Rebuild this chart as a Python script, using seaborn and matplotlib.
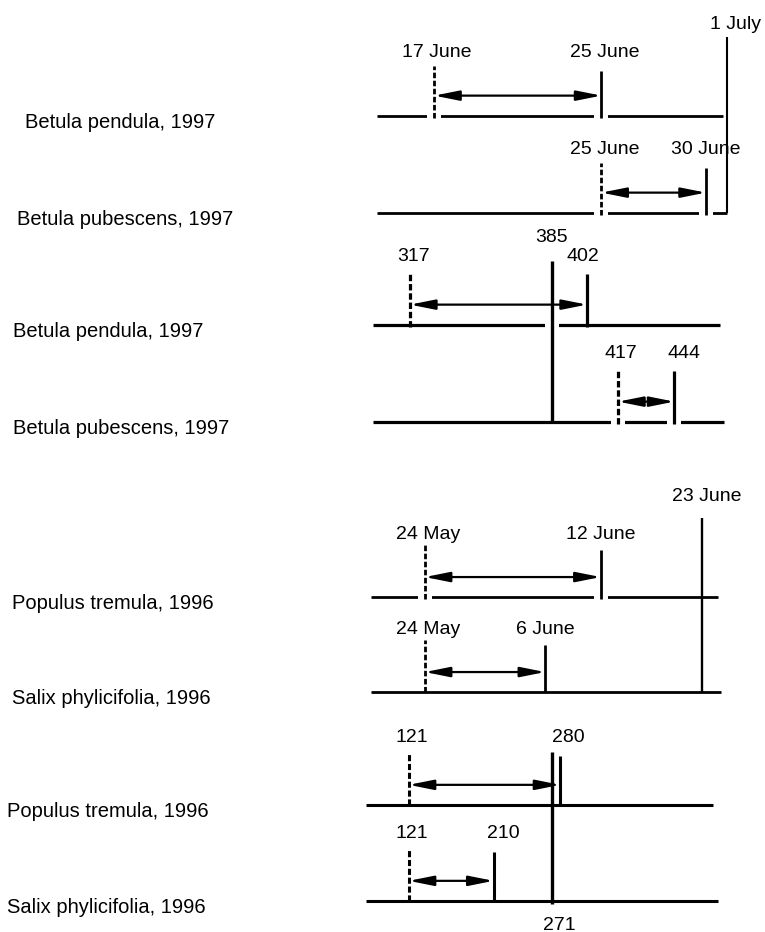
import matplotlib
matplotlib.use("Agg")
import matplotlib.pyplot as plt
import pandas as pd
import seaborn as sns

# birches, 1997: start / end of flowering as dates
birch_species = ["Betula pendula, 1997", "Betula pubescens, 1997"]
birch_start = ["1997-06-17", "1997-06-25"]
birch_end = ["1997-06-25", "1997-06-30"]
birch_ref = "1997-07-01"

# birches, 1997: same events as thermal sums
birch_sum_start = [317, 417]
birch_sum_end = [402, 444]
birch_sum_ref = 385

# aspen and willow, 1996: dates
salic_species = ["Populus tremula, 1996", "Salix phylicifolia, 1996"]
salic_start = ["1996-05-24", "1996-05-24"]
salic_end = ["1996-06-12", "1996-06-06"]
salic_ref = "1996-06-23"

# aspen and willow, 1996: thermal sums
salic_sum_start = [121, 121]
salic_sum_end = [280, 210]
salic_sum_ref = 271

W, H = 765, 932
FONT = ["Liberation Sans", "DejaVu Sans"]

sns.set_theme(style="white")
plt.rcParams["font.family"] = FONT
plt.rcParams["text.color"] = "black"


def doy(s):
    return pd.Timestamp(s).dayofyear


def day_label(s):
    t = pd.Timestamp(s)
    return f"{t.day} {t.strftime('%B')}"


def as_dates(values):
    return [doy(v) for v in values], [day_label(v) for v in values]


def as_sums(values):
    return list(values), [str(v) for v in values]


def panel_axes(fig, top_px, bottom_px, xlim):
    # rows sit at y=1 (upper) and y=0 (lower)
    sp = bottom_px - top_px
    lo, hi = -0.5, 2.3
    ax_bot = bottom_px - lo * sp
    ax_top = bottom_px - hi * sp
    ax = fig.add_axes([0, 1 - ax_bot / H, 1, (ax_bot - ax_top) / H])
    ax.set_xlim(*xlim)
    ax.set_ylim(lo, hi)
    ax.axis("off")
    return ax


def draw_panel(ax, species, start, end, ref, st):
    xs, s_lab = start
    xe, e_lab = end
    xr, r_lab = ref
    lw = st["lw"]
    for i, name in enumerate(species):
        y = 1 - i
        x0, x1 = st["base"][i]
        ax.plot([x0, x1], [y, y], color="black", lw=lw,
                transform=ax.get_yaxis_transform(), solid_capstyle="butt", zorder=1)
        # white breaks in the baseline where the markers cross it
        for key in st["breaks"][i]:
            bx = {"start": xs[i], "end": xe[i], "ref": xr[0]}[key]
            ax.plot([bx], [y], marker="_", ms=9.5, mew=lw + 2, color="white", zorder=2)
        low = -0.02 if st["breaks"][i] else 0
        ax.plot([xs[i], xs[i]], [y + low, y + st["h_start"]],
                color="black", lw=lw, dashes=(2.0, 0.9), zorder=3)
        ax.plot([xe[i], xe[i]], [y + low, y + st["h_end"]],
                color="black", lw=lw, solid_capstyle="butt", zorder=3)
        ax.annotate("", xy=(xe[i], y + 0.21), xytext=(xs[i], y + 0.21),
                    arrowprops=dict(arrowstyle="<|-|>,head_length=1.5,head_width=0.3",
                                    lw=1.6, color="black", shrinkA=0, shrinkB=0,
                                    mutation_scale=10), zorder=4)
        ax.annotate(s_lab[i], (xs[i], y + st["lab_y"]), xytext=(3, 0),
                    textcoords="offset pixels", ha="center", va="center", fontsize=14)
        ax.annotate(e_lab[i], (xe[i], y + st["lab_y"]), xytext=(st["end_dx"][i], 0),
                    textcoords="offset pixels", ha="center", va="center", fontsize=14)
        ax.text(st["name_x"][i] / W, y - 0.07, name, transform=ax.get_yaxis_transform(),
                ha="left", va="center", fontsize=14.5)
    y0, y1 = st["ref_span"]
    ax.plot([xr[0], xr[0]], [y0, y1], color="black", lw=st["ref_lw"],
            solid_capstyle="butt", zorder=3)
    ax.annotate(r_lab[0], (xr[0], st["ref_lab"][0]), xytext=(st["ref_lab"][1], 0),
                textcoords="offset pixels", ha="center", va="center", fontsize=14)


fig = plt.figure(figsize=(W / 100, H / 100), dpi=100)

panels = [
    dict(rows=(116, 213), xlim=(147.22, 183.83),
         data=(birch_species, as_dates(birch_start), as_dates(birch_end), as_dates([birch_ref])),
         st=dict(lw=2.0, base=[(377 / W, 723 / W), (377 / W, 727 / W)],
                 breaks=[["start", "end"], ["start", "end"]],
                 h_start=0.52, h_end=0.46, lab_y=0.65, end_dx=[3, 0],
                 name_x=[25, 17], ref_span=(0, 1.81), ref_lw=1.5, ref_lab=(1.94, 9))),
    dict(rows=(325, 422), xlim=(119.96, 487.57),
         data=(birch_species, as_sums(birch_sum_start), as_sums(birch_sum_end), as_sums([birch_sum_ref])),
         st=dict(lw=2.3, base=[(373 / W, 720 / W), (373 / W, 724 / W)],
                 breaks=[["ref"], ["start", "end"]],
                 h_start=0.53, h_end=0.53, lab_y=0.71, end_dx=[-4, 10],
                 name_x=[13, 13], ref_span=(0, 1.66), ref_lw=2.4, ref_lab=(1.9, 0))),
    dict(rows=(597, 692), xlim=(99.09, 181.76),
         data=(salic_species, as_dates(salic_start), as_dates(salic_end), as_dates([salic_ref])),
         st=dict(lw=2.0, base=[(371 / W, 718 / W), (371 / W, 721 / W)],
                 breaks=[["start", "end"], []],
                 h_start=0.55, h_end=0.49, lab_y=0.66, end_dx=[0, 0],
                 name_x=[12, 12], ref_span=(0, 1.83), ref_lw=1.7, ref_lab=(2.06, 4))),
    dict(rows=(805, 901), xlim=(-307.9, 494.8),
         data=(salic_species, as_sums(salic_sum_start), as_sums(salic_sum_end), as_sums([salic_sum_ref])),
         st=dict(lw=2.2, base=[(366 / W, 713 / W), (366 / W, 718 / W)],
                 breaks=[[], []],
                 h_start=0.53, h_end=0.51, lab_y=0.7, end_dx=[8, 10],
                 name_x=[7, 7], ref_span=(-0.03, 1.55), ref_lw=2.4, ref_lab=(-0.25, 8))),
]

for p in panels:
    ax = panel_axes(fig, p["rows"][0], p["rows"][1], p["xlim"])
    draw_panel(ax, *p["data"], p["st"])

fig.savefig("out.png", dpi=100, facecolor="white")
